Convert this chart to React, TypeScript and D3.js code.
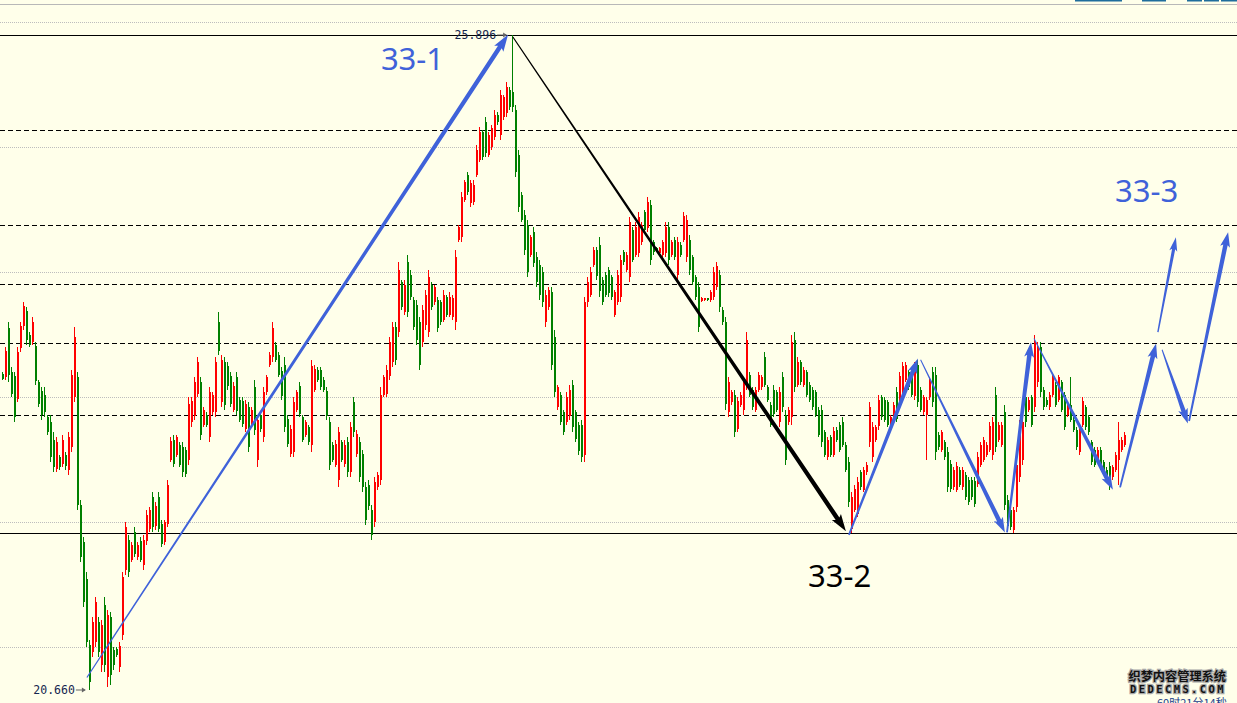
import React from 'react';
import * as d3 from 'd3';

// OHLC bars: [open, high, low, close]
const openingRange: number[][] = [
  [23.19,23.20,23.14,23.15],[23.16,23.40,23.14,23.37],[23.55,23.60,23.12,23.18],[23.20,23.24,23.00,23.03],
  [23.17,23.20,22.80,22.84],[22.99,23.40,22.96,23.36],[23.39,23.60,23.36,23.57],[23.57,23.76,23.54,23.73],
  [23.69,23.72,23.42,23.46],[23.50,23.52,23.40,23.42],[23.44,23.64,23.42,23.60],[23.41,23.44,23.10,23.13],
  [23.12,23.14,22.92,22.95],[23.05,23.08,22.82,22.86],[23.02,23.08,22.84,22.88],[22.84,22.86,22.70,22.72],
  [22.80,22.86,22.48,22.52],[22.66,22.72,22.40,22.44],[22.43,22.68,22.40,22.64],[22.52,22.54,22.42,22.44],
  [22.47,22.70,22.44,22.66],[22.54,22.56,22.42,22.45],[22.42,22.72,22.38,22.68],[22.60,23.22,22.56,23.18],
  [23.00,23.56,22.96,23.48],[23.16,23.20,22.10,22.14],[22.14,22.18,21.68,21.72],[21.84,21.88,21.32,21.36],
  [21.55,21.60,21.00,21.04],
];

const bottomBase: number[][] = [
  [21.02,21.06,20.66,20.72],[20.96,21.24,20.92,21.20],[21.04,21.40,21.00,21.36],[21.20,21.24,20.92,20.96],
  [20.86,21.22,20.80,21.18],[21.34,21.40,20.80,20.86],[20.76,21.30,20.68,21.26],[21.24,21.28,20.70,20.78],
  [20.98,21.00,20.82,20.86],[20.99,21.00,20.92,20.94],[20.84,21.04,20.80,21.01],[21.10,21.60,21.06,21.56],
  [21.62,22.00,21.58,21.96],[21.86,21.90,21.56,21.60],[21.70,21.84,21.68,21.82],[21.92,21.96,21.72,21.75],
  [21.72,21.84,21.70,21.82],[21.85,21.88,21.68,21.70],[21.66,21.90,21.62,21.86],[21.85,22.10,21.82,22.06],
  [21.95,22.12,21.92,22.10],[22.20,22.24,21.92,21.96],[21.97,22.16,21.94,22.13],[22.20,22.24,21.92,21.95],
  [21.99,22.02,21.80,21.83],[21.84,22.02,21.82,22.00],[21.99,22.34,21.96,22.30],
];

const firstRally: number[][] = [
  [22.50,22.68,22.48,22.65],[22.66,22.70,22.44,22.47],[22.54,22.70,22.52,22.68],[22.62,22.64,22.44,22.46],
  [22.60,22.64,22.36,22.40],[22.58,22.60,22.36,22.39],[22.50,23.00,22.46,22.95],[22.80,23.00,22.76,22.97],
  [22.85,23.16,22.82,23.12],[23.03,23.32,23.00,23.28],[23.12,23.16,22.66,22.70],[22.78,22.92,22.76,22.90],
  [22.86,22.88,22.76,22.78],[22.68,23.08,22.64,23.04],[22.88,23.04,22.86,23.02],[22.88,23.32,22.84,23.28],
  [23.60,23.68,23.34,23.37],[22.96,23.34,22.92,23.30],[23.28,23.32,22.90,22.94],[23.25,23.28,23.06,23.09],
  [23.17,23.20,22.92,22.95],[22.90,23.12,22.88,23.09],[23.16,23.20,22.86,22.89],[22.98,23.00,22.80,22.82],
  [22.97,23.00,22.76,22.79],[22.75,22.98,22.72,22.95],[22.92,22.96,22.56,22.60],[22.78,22.92,22.76,22.90],
  [23.08,23.14,22.70,22.74],[22.50,22.86,22.44,22.82],[22.86,22.88,22.72,22.75],[22.68,23.08,22.64,23.04],
  [23.04,23.18,23.02,23.16],[23.26,23.36,23.24,23.34],[23.32,23.60,23.28,23.55],[23.42,23.44,23.28,23.30],
  [23.34,23.36,23.16,23.18],[23.21,23.24,22.98,23.01],[23.26,23.32,22.72,22.76],[22.83,22.86,22.60,22.63],
  [22.55,22.78,22.52,22.75],[22.56,23.00,22.52,22.96],[22.90,23.06,22.88,23.04],[23.09,23.12,22.84,22.87],
  [22.84,22.86,22.64,22.66],[22.70,22.82,22.68,22.80],[22.76,22.78,22.62,22.64],[22.62,23.30,22.56,23.25],
  [23.06,23.26,23.04,23.23],[23.22,23.24,23.12,23.14],[23.22,23.24,23.06,23.08],[23.14,23.16,23.04,23.06],
  [23.05,23.08,22.82,22.85],[22.80,22.84,22.42,22.46],[22.62,22.64,22.48,22.50],[22.46,22.66,22.44,22.63],
  [22.34,22.76,22.28,22.72],[22.64,22.66,22.48,22.50],[22.47,22.66,22.44,22.62],[22.64,22.68,22.36,22.40],
  [22.40,22.80,22.36,22.76],[22.96,23.00,22.68,22.72],[22.55,22.74,22.52,22.71],[22.64,22.68,22.32,22.36],
  [22.55,22.58,22.24,22.28],[22.28,22.32,21.98,22.02],[22.30,22.34,22.10,22.13],[22.10,22.14,21.86,21.90],
  [22.00,22.36,21.96,22.32],[22.28,22.40,22.26,22.38],[22.34,23.08,22.30,23.02],[23.02,23.18,23.00,23.16],
  [23.03,23.26,23.00,23.22],[23.17,23.48,23.14,23.44],[23.28,23.60,23.24,23.56],[23.56,23.60,23.26,23.30],
];

const climbToPeak: number[][] = [
  [23.52,24.08,23.48,24.02],[23.92,23.94,23.70,23.72],[23.68,23.94,23.66,23.90],[24.08,24.14,23.64,23.68],
  [23.98,24.02,23.78,23.80],[23.78,23.80,23.54,23.56],[23.74,23.78,23.42,23.46],[23.60,23.64,23.22,23.26],
  [23.44,23.74,23.40,23.70],[23.58,23.86,23.54,23.82],[23.52,24.02,23.48,23.96],[23.90,23.92,23.70,23.72],
  [23.76,23.90,23.74,23.88],[23.78,23.80,23.52,23.55],[23.76,23.78,23.58,23.60],[23.62,23.86,23.60,23.82],
  [23.80,23.82,23.64,23.66],[23.66,23.84,23.64,23.80],[23.64,23.82,23.62,23.79],[23.60,24.18,23.54,24.12],
  [24.26,24.38,24.24,24.36],[24.28,24.64,24.24,24.60],[24.58,24.74,24.56,24.72],[24.78,24.80,24.62,24.64],
  [24.55,24.74,24.52,24.71],[24.56,24.74,24.54,24.70],[24.78,25.02,24.76,24.98],[24.90,25.16,24.88,25.12],
  [25.12,25.14,24.90,24.92],[25.20,25.24,24.92,24.95],[24.94,25.12,24.92,25.10],[25.00,25.18,24.98,25.15],
  [25.08,25.30,25.06,25.26],[25.26,25.28,25.18,25.20],[25.10,25.46,25.06,25.42],[25.24,25.42,25.22,25.40],
  [25.27,25.52,25.24,25.48],[25.46,25.48,25.30,25.32],[25.44,25.896,25.28,25.32],
];

const declineLeg: number[][] = [
  [25.30,25.34,24.76,24.80],[24.94,24.98,24.48,24.52],[24.62,24.64,24.40,24.42],[24.46,24.50,24.14,24.18],
  [24.38,24.42,23.96,24.00],[24.14,24.30,24.12,24.28],[24.32,24.36,24.04,24.07],[24.12,24.16,23.88,23.92],
  [24.06,24.10,23.78,23.82],[24.00,24.04,23.72,23.76],[23.60,23.86,23.56,23.82],[23.72,23.88,23.70,23.86],
  [23.84,23.88,23.22,23.26],[23.48,23.54,23.00,23.04],[22.92,23.10,22.90,23.08],[23.02,23.04,22.78,22.80],
  [22.88,22.90,22.70,22.72],[22.80,23.04,22.78,23.00],[22.85,23.10,22.82,23.06],[23.10,23.14,22.72,22.76],
  [22.88,22.90,22.64,22.67],[22.78,22.80,22.54,22.57],[22.78,22.82,22.48,22.52],[22.54,23.80,22.48,23.76],
  [23.76,23.96,23.72,23.92],[23.82,24.04,23.80,24.00],[24.06,24.20,24.04,24.18],[24.18,24.20,23.94,23.97],
  [24.22,24.28,23.80,23.85],[23.94,23.96,23.74,23.76],[23.98,24.00,23.80,23.82],[24.02,24.04,23.80,23.83],
  [23.96,23.98,23.78,23.80],[23.66,23.86,23.64,23.84],[23.76,24.02,23.74,23.98],[23.80,24.14,23.76,24.10],
  [24.16,24.18,24.06,24.08],[24.02,24.16,24.00,24.14],[23.96,24.44,23.92,24.40],[24.34,24.36,24.08,24.10],
  [24.14,24.40,24.12,24.36],[24.15,24.48,24.12,24.44],[24.24,24.40,24.22,24.38],[24.48,24.50,24.32,24.34],
  [24.35,24.60,24.32,24.56],[24.54,24.58,24.06,24.10],[24.24,24.26,24.14,24.16],[24.19,24.20,24.16,24.17],
  [24.15,24.20,24.14,24.19],[24.14,24.26,24.12,24.24],[24.15,24.40,24.12,24.36],[24.36,24.40,24.06,24.10],
  [24.14,24.26,24.12,24.24],[24.26,24.28,24.10,24.12],[23.98,24.28,23.94,24.24],[24.22,24.24,24.12,24.14],
  [24.26,24.48,24.24,24.45],[24.12,24.46,24.08,24.42],[24.26,24.30,23.98,24.02],[24.12,24.14,23.90,23.92],
  [23.96,23.98,23.78,23.80],[23.88,23.92,23.52,23.56],[23.77,23.80,23.76,23.79],[23.78,23.79,23.77,23.79],
  [23.79,23.79,23.77,23.78],[23.78,23.86,23.76,23.84],[23.80,24.04,23.78,24.00],[23.88,24.08,23.86,24.05],
  [23.98,24.02,23.68,23.72],[23.70,23.72,23.58,23.60],[23.60,23.64,22.90,22.95],[22.88,23.16,22.84,23.12],
  [22.96,23.06,22.94,23.04],[23.02,23.06,22.68,22.72],[22.75,23.00,22.72,22.97],[22.94,23.04,22.92,23.02],
  [22.90,23.16,22.86,23.12],[23.10,23.52,23.06,23.46],[23.18,23.20,23.00,23.02],[23.06,23.08,22.90,22.92],
  [22.90,23.08,22.88,23.06],[23.06,23.20,23.04,23.18],[23.08,23.18,23.06,23.16],[23.32,23.36,23.08,23.10],
  [23.08,23.10,22.96,22.98],[22.94,22.96,22.76,22.78],[23.06,23.10,22.84,22.87],[23.04,23.06,22.88,22.90],
  [22.80,23.08,22.76,23.04],[23.16,23.20,22.88,22.92],[22.86,22.90,22.46,22.50],[22.80,22.92,22.78,22.90],
  [22.84,23.50,22.78,23.44],[23.46,23.52,23.04,23.08],[23.10,23.32,23.08,23.28],[23.28,23.30,23.10,23.12],
  [23.10,23.24,23.08,23.22],[23.20,23.22,23.00,23.02],[23.10,23.12,22.96,22.98],[23.06,23.08,22.90,22.92],
  [23.04,23.06,22.84,22.86],[22.90,22.92,22.68,22.70],[22.90,22.94,22.60,22.64],[22.72,22.74,22.52,22.54],
  [22.52,22.68,22.50,22.66],[22.68,22.70,22.52,22.54],[22.54,22.76,22.52,22.73],[22.74,22.76,22.64,22.66],
  [22.78,22.80,22.56,22.58],[22.80,22.84,22.60,22.62],[22.62,22.64,22.40,22.42],[22.48,22.52,22.12,22.16],
  [21.95,22.24,21.912,22.20],
];

const rangeFloor: number[][] = [
  [22.10,22.30,22.08,22.27],[22.07,22.36,22.04,22.32],[22.40,22.42,22.26,22.28],[22.26,22.44,22.24,22.42],
  [22.40,22.48,22.38,22.46],[22.64,22.96,22.60,22.92],[22.52,22.80,22.48,22.76],[22.66,22.78,22.64,22.76],
  [22.77,23.02,22.74,22.98],[23.00,23.02,22.82,22.84],[22.98,23.00,22.80,22.82],[22.96,22.98,22.76,22.78],
  [22.76,22.86,22.74,22.84],[22.82,22.96,22.80,22.94],[23.04,23.08,22.80,22.83],[22.98,23.20,22.96,23.17],
  [23.03,23.28,23.00,23.25],[23.14,23.28,23.12,23.26],[23.20,23.22,23.06,23.08],[23.22,23.24,23.00,23.02],
  [23.01,23.28,22.98,23.25],[23.26,23.30,22.92,22.96],[23.06,23.08,22.88,22.90],[22.88,23.02,22.86,23.00],
  [22.86,23.00,22.50,22.98],[23.00,23.16,22.98,23.14],[23.20,23.24,22.92,22.96],[23.18,23.24,22.50,22.56],
  [22.70,22.72,22.58,22.60],[22.58,22.74,22.56,22.72],[22.64,22.66,22.50,22.52],[22.56,22.60,22.24,22.28],
  [22.47,22.50,22.24,22.27],[22.28,22.44,22.26,22.42],[22.26,22.48,22.24,22.45],[22.42,22.44,22.28,22.30],
  [22.28,22.44,22.26,22.42],[22.38,22.40,22.18,22.20],[22.34,22.36,22.14,22.16],[22.34,22.36,22.18,22.20],
  [22.33,22.36,22.12,22.15],[22.31,22.56,22.28,22.52],[22.46,22.64,22.44,22.62],[22.50,22.68,22.48,22.66],
  [22.54,22.64,22.52,22.62],[22.58,22.80,22.56,22.77],[22.54,22.84,22.50,22.80],[23.02,23.08,22.56,22.60],
  [22.66,22.80,22.64,22.78],[22.62,22.80,22.60,22.78],[22.88,22.94,22.10,22.14],[22.18,22.22,21.94,21.97],
  [22.10,22.12,21.94,21.96],[21.94,22.12,21.912,22.10],[22.12,22.50,22.08,22.46],[22.36,22.82,22.32,22.78],
  [22.50,22.82,22.46,22.80],[23.00,23.04,22.76,22.80],[22.90,23.00,22.88,22.98],[23.00,23.02,22.76,22.78],
  [22.92,23.50,22.88,23.44],[23.12,23.44,23.08,23.40],[23.40,23.44,23.00,23.04],[23.06,23.08,22.90,22.92],
  [22.98,23.00,22.92,22.94],[22.92,23.04,22.90,23.02],[23.02,23.18,23.00,23.16],[23.10,23.12,22.92,22.94],
  [22.98,23.18,22.96,23.16],[23.12,23.14,22.88,22.90],[23.02,23.04,22.74,22.76],[22.86,22.96,22.84,22.94],
  [22.94,23.16,22.80,22.82],[22.82,22.84,22.72,22.74],[22.74,22.76,22.58,22.60],[22.56,22.78,22.54,22.75],
  [22.78,23.00,22.76,22.97],[22.92,22.94,22.74,22.76],[22.84,22.86,22.70,22.72],[22.64,22.66,22.46,22.48],
  [22.58,22.60,22.44,22.46],[22.50,22.60,22.48,22.58],[22.58,22.60,22.42,22.44],[22.48,22.50,22.40,22.42],
  [22.42,22.44,22.34,22.36],[22.45,22.48,22.26,22.29],[22.36,22.46,22.34,22.44],[22.42,22.56,22.40,22.54],
  [22.50,22.80,22.30,22.66],[22.58,22.68,22.56,22.66],[22.62,22.72,22.60,22.70],
];

const bars = [...openingRange, ...bottomBase, ...firstRally, ...climbToPeak, ...declineLeg, ...rangeFloor];

// horizontal price levels
const gridPrices = [21, 22, 23, 24, 25, 26];
const solidLevels = [25.896, 21.912];
const dashedLevels = [25.136, 24.376, 23.904, 23.436, 22.856];

// wave annotations, in [bar index, price]
const waveArrows = [
  { from: [28.3, 20.76], to: [168.7, 25.9], kind: 'long', color: 'blue' },
  { from: [170.3, 25.88], to: [281.3, 21.93], kind: 'long', color: 'black' },
  { from: [282.3, 21.9], to: [305.3, 23.31], kind: 'up', color: 'blue' },
  { from: [306.2, 23.3], to: [334.3, 21.92], kind: 'down', color: 'blue' },
  { from: [335, 21.92], to: [343, 23.44], kind: 'up', color: 'blue' },
  { from: [344, 23.47], to: [370.3, 22.26], kind: 'down', color: 'blue' },
  { from: [372.7, 22.28], to: [384.7, 23.43], kind: 'up', color: 'blue' },
  { from: [385.3, 23.52], to: [391.3, 24.28], kind: 'thin', color: 'blue' },
  { from: [386.7, 23.38], to: [395.3, 22.79], kind: 'down', color: 'blue' },
  { from: [395.7, 22.81], to: [408.7, 24.32], kind: 'up', color: 'blue' },
];
const waveLabels = [
  { text: '33-1', at: [126.3, 25.62], color: 'blue' },
  { text: '33-2', at: [268.7, 21.48], color: 'black' },
  { text: '33-3', at: [371, 24.56], color: 'blue' },
];
const priceMarks = [
  { label: '25.896', at: [168.7, 25.896] },
  { label: '20.660', at: [28.3, 20.66] },
];

const arrowStyle: Record<string, number[]> = {
  // w0, w1, head length, head width
  long: [1.2, 4.5, 15, 11],
  up: [1.8, 4.5, 13, 10],
  down: [1, 4.5, 13, 10],
  thin: [1.4, 3.2, 12, 8],
};
const colors: Record<string, string> = { blue: '#3f62d9', black: '#000' };

const W = 1237;
const H = 703;

function arrowPath(x0: number, y0: number, x1: number, y1: number, s: number[]) {
  const [w0, w1, hl, hw] = s;
  const dx = x1 - x0, dy = y1 - y0;
  const len = Math.hypot(dx, dy);
  const ux = dx / len, uy = dy / len;
  const nx = -uy, ny = ux;
  const bx = x1 - ux * hl, by = y1 - uy * hl;
  const p = d3.path();
  p.moveTo(x0 + nx * w0 / 2, y0 + ny * w0 / 2);
  p.lineTo(bx + nx * w1 / 2, by + ny * w1 / 2);
  p.lineTo(bx + nx * hw / 2 - ux * 2, by + ny * hw / 2 - uy * 2);
  p.lineTo(x1, y1);
  p.lineTo(bx - nx * hw / 2 - ux * 2, by - ny * hw / 2 - uy * 2);
  p.lineTo(bx - nx * w1 / 2, by - ny * w1 / 2);
  p.lineTo(x0 - nx * w0 / 2, y0 - ny * w0 / 2);
  p.closePath();
  return p.toString();
}

const App: React.FC = () => {
  const x = d3.scaleLinear().domain([0, 374]).range([2, 1124]);
  const y = d3.scaleLinear().domain([20.66, 25.896]).range([690, 35]);

  return (
    <svg width={W} height={H} style={{ position: 'fixed', left: 0, top: 0, background: '#ffffea' }}>
      <rect width={W} height={H} fill="#ffffea" />
      {/* top frame + cut-off toolbar links */}
      <line x1={0} x2={W} y1={4.5} y2={4.5} stroke="#b8b8b8" />
      {[[1075, 47], [1142, 24], [1187, 15], [1204, 15], [1221, 16]].map(([a, w], i) => (
        <rect key={i} x={a} y={0} width={w} height={1.5} fill="#1f6d9c" />
      ))}

      {gridPrices.map(p => (
        <line key={p} x1={0} x2={W} y1={Math.round(y(p)) + 0.5} y2={Math.round(y(p)) + 0.5}
          stroke="#bdbdbd" strokeDasharray="1,1" />
      ))}
      {dashedLevels.map(p => (
        <line key={p} x1={0} x2={W} y1={Math.round(y(p)) + 0.5} y2={Math.round(y(p)) + 0.5}
          stroke="#000" strokeDasharray="5,3" />
      ))}
      {solidLevels.map(p => (
        <line key={p} x1={0} x2={W} y1={Math.round(y(p)) + 0.5} y2={Math.round(y(p)) + 0.5} stroke="#000" />
      ))}

      <g shapeRendering="crispEdges">
        {bars.map(([o, h, l, c], i) => {
          const cx = Math.round(x(i));
          const up = c >= o;
          const col = up ? '#ff0000' : '#008000';
          const top = y(Math.max(o, c));
          const bh = Math.max(1, Math.abs(y(o) - y(c)));
          return (
            <g key={i} fill={col}>
              <rect x={cx} y={y(h)} width={1} height={Math.max(1, y(l) - y(h))} />
              <rect x={cx} y={top} width={2} height={bh} />
            </g>
          );
        })}
      </g>

      {waveArrows.map((a, i) => (
        <path key={i}
          d={arrowPath(x(a.from[0]), y(a.from[1]), x(a.to[0]), y(a.to[1]), arrowStyle[a.kind])}
          fill={colors[a.color]} />
      ))}

      {priceMarks.map(m => {
        const tx = x(m.at[0]);
        const ty = y(m.at[1]);
        return (
          <g key={m.label}>
            <text x={tx - 12} y={ty + 4} textAnchor="end" fontFamily="'DejaVu Sans Mono', monospace"
              fontSize={11.5} fill="#14264f">{m.label}</text>
            <line x1={tx - 11} x2={tx - 2} y1={ty} y2={ty} stroke="#666" />
            <path d={`M${tx - 1},${ty} l-4,-2.5 v5 z`} fill="#666" />
          </g>
        );
      })}

      {waveLabels.map(l => (
        <text key={l.text} x={x(l.at[0])} y={y(l.at[1])} fontFamily="'Noto Sans', sans-serif"
          fontSize={31} fill={colors[l.color]}>{l.text}</text>
      ))}

      {/* watermark and clock text at bottom right */}
      <text x={1226} y={681} textAnchor="end" fontFamily="'Noto Sans CJK SC'" fontWeight={700}
        fontSize={12.2} fill="#111" stroke="#a8a8a8" strokeWidth={2.5} paintOrder="stroke">织梦内容管理系统</text>
      <text x={1226} y={693} textAnchor="end" fontFamily="'DejaVu Sans Mono', monospace" fontWeight={700}
        fontSize={10.5} letterSpacing={2.4} fill="#111" stroke="#a8a8a8" strokeWidth={2.5} paintOrder="stroke">DEDECMS.COM</text>
      <text x={1157} y={707} fontFamily="'Noto Sans CJK SC'" fontSize={11} fill="#1a3c8c">60时21分14秒</text>
    </svg>
  );
};

export default App;
